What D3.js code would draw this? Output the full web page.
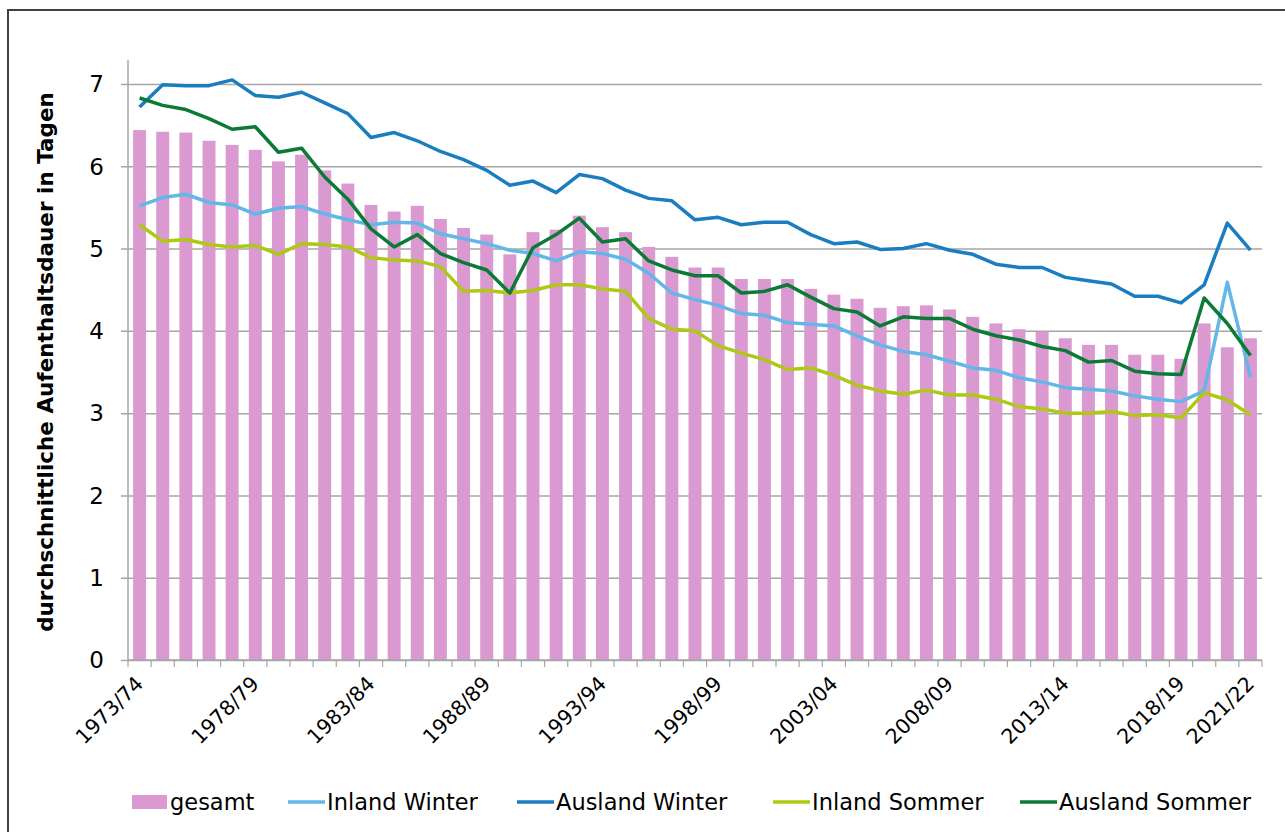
<!DOCTYPE html>
<html>
<head>
<meta charset="utf-8">
<script src="https://cdn.jsdelivr.net/npm/d3@7"></script>
<style>
  html, body { margin: 0; padding: 0; background: #fff; }
  svg { display: block; }
  text { font-family: "DejaVu Sans", sans-serif; fill: #000; }
</style>
</head>
<body>
<svg id="chart" width="1285" height="832"></svg>
<script>
// Seasons (Winter/Sommer Saison)
const seasons = [];
for (let yr = 1973; yr <= 2021; yr++) {
  seasons.push(yr + "/" + String((yr + 1) % 100).padStart(2, "0"));
}
const shownLabels = ["1973/74", "1978/79", "1983/84", "1988/89", "1993/94", "1998/99",
  "2003/04", "2008/09", "2013/14", "2018/19", "2021/22"];
const yTicks = [0, 1, 2, 3, 4, 5, 6, 7];

// Durchschnittliche Aufenthaltsdauer in Tagen
const gesamt = [6.44, 6.42, 6.41, 6.31, 6.26, 6.20, 6.06, 6.14, 5.95, 5.79,
  5.53, 5.45, 5.52, 5.36, 5.25, 5.17, 4.93, 5.20, 5.23, 5.40,
  5.26, 5.20, 5.02, 4.90, 4.77, 4.77, 4.63, 4.63, 4.63, 4.51,
  4.44, 4.39, 4.28, 4.30, 4.31, 4.26, 4.17, 4.09, 4.02, 3.99,
  3.91, 3.83, 3.83, 3.71, 3.71, 3.66, 4.09, 3.80, 3.91];
const inlandWinter = [5.52, 5.62, 5.66, 5.56, 5.53, 5.42, 5.49, 5.51, 5.42, 5.35,
  5.29, 5.32, 5.31, 5.18, 5.12, 5.06, 4.98, 4.94, 4.85, 4.96,
  4.94, 4.87, 4.70, 4.46, 4.38, 4.31, 4.21, 4.19, 4.10, 4.08,
  4.06, 3.94, 3.83, 3.75, 3.71, 3.63, 3.55, 3.52, 3.43, 3.38,
  3.31, 3.29, 3.27, 3.21, 3.17, 3.14, 3.27, 4.59, 3.44];
const auslandWinter = [6.72, 6.99, 6.98, 6.98, 7.05, 6.86, 6.84, 6.90, 6.77, 6.64,
  6.35, 6.41, 6.31, 6.18, 6.08, 5.95, 5.77, 5.82, 5.68, 5.90,
  5.85, 5.71, 5.61, 5.58, 5.35, 5.38, 5.29, 5.32, 5.32, 5.17,
  5.06, 5.08, 4.99, 5.00, 5.06, 4.98, 4.93, 4.81, 4.77, 4.77,
  4.65, 4.61, 4.57, 4.42, 4.42, 4.34, 4.56, 5.31, 4.98];
const inlandSommer = [5.29, 5.09, 5.11, 5.05, 5.02, 5.04, 4.93, 5.06, 5.05, 5.02,
  4.89, 4.86, 4.85, 4.78, 4.48, 4.49, 4.46, 4.49, 4.56, 4.56,
  4.51, 4.48, 4.15, 4.02, 4.00, 3.82, 3.73, 3.65, 3.53, 3.55,
  3.46, 3.34, 3.27, 3.23, 3.28, 3.22, 3.22, 3.17, 3.08, 3.05,
  3.00, 3.00, 3.02, 2.97, 2.98, 2.94, 3.25, 3.16, 2.98];
const auslandSommer = [6.83, 6.74, 6.69, 6.58, 6.45, 6.48, 6.17, 6.22, 5.87, 5.60,
  5.24, 5.02, 5.17, 4.94, 4.83, 4.74, 4.46, 5.01, 5.17, 5.37,
  5.08, 5.12, 4.85, 4.74, 4.67, 4.67, 4.46, 4.48, 4.56, 4.41,
  4.27, 4.23, 4.06, 4.17, 4.15, 4.15, 4.02, 3.94, 3.89, 3.81,
  3.76, 3.62, 3.64, 3.51, 3.48, 3.47, 4.40, 4.09, 3.70];

const colors = {
  gesamt: "#da9ad1",
  inlandWinter: "#62b7e8",
  auslandWinter: "#1a7dc0",
  inlandSommer: "#afc814",
  auslandSommer: "#0b7a35"
};

const lineSeries = [
  { name: "Inland Winter", values: inlandWinter, color: colors.inlandWinter },
  { name: "Ausland Winter", values: auslandWinter, color: colors.auslandWinter },
  { name: "Inland Sommer", values: inlandSommer, color: colors.inlandSommer },
  { name: "Ausland Sommer", values: auslandSommer, color: colors.auslandSommer }
];

const svg = d3.select("#chart");

// outer frame
svg.append("rect")
  .attr("x", 8).attr("y", 10).attr("width", 1300).attr("height", 850)
  .attr("fill", "none").attr("stroke", "#404040").attr("stroke-width", 2);

const plotLeft = 128, plotRight = 1262, plotTop = 84, plotBottom = 660;

const x = d3.scaleBand().domain(seasons).range([plotLeft, plotRight]).padding(0);
const y = d3.scaleLinear().domain([0, 7]).range([plotBottom, plotTop]);
const barW = x.bandwidth() * 0.56;
const cx = d => x(d) + x.bandwidth() / 2;

// horizontal gridlines with left tick marks
svg.append("g")
  .attr("transform", `translate(${plotLeft},0)`)
  .call(d3.axisLeft(y).tickValues(yTicks).tickSize(-(plotRight - plotLeft)).tickFormat(""))
  .call(g => g.select(".domain").remove())
  .call(g => g.selectAll("line").attr("stroke", "#a6a6a6").attr("stroke-width", 1.5).attr("x1", -7));

// y tick labels
svg.append("g")
  .selectAll("text")
  .data(yTicks)
  .join("text")
  .attr("x", 104)
  .attr("y", d => y(d))
  .attr("dy", "0.36em")
  .attr("text-anchor", "end")
  .attr("font-size", 23)
  .text(d => d);

// bars
svg.append("g")
  .selectAll("rect")
  .data(seasons)
  .join("rect")
  .attr("x", (d) => cx(d) - barW / 2)
  .attr("width", barW)
  .attr("y", (d, i) => y(gesamt[i]))
  .attr("height", (d, i) => y(0) - y(gesamt[i]))
  .attr("fill", colors.gesamt);

// y axis line
svg.append("line")
  .attr("x1", plotLeft).attr("x2", plotLeft)
  .attr("y1", y(7.29)).attr("y2", plotBottom)
  .attr("stroke", "#a6a6a6").attr("stroke-width", 1.5);

// x axis with ticks on category boundaries
const xAxis = svg.append("g");
xAxis.append("line")
  .attr("x1", plotLeft).attr("x2", plotRight)
  .attr("y1", plotBottom).attr("y2", plotBottom)
  .attr("stroke", "#a6a6a6").attr("stroke-width", 1.5);
xAxis.selectAll("line.tick")
  .data(seasons.concat([null]))
  .join("line")
  .attr("class", "tick")
  .attr("x1", (d, i) => plotLeft + i * x.bandwidth())
  .attr("x2", (d, i) => plotLeft + i * x.bandwidth())
  .attr("y1", plotBottom).attr("y2", plotBottom + 7)
  .attr("stroke", "#a6a6a6").attr("stroke-width", 1.2);

xAxis.selectAll("text")
  .data(shownLabels)
  .join("text")
  .attr("transform", d => `translate(${cx(d) + 5},${plotBottom + 25}) rotate(-45)`)
  .attr("text-anchor", "end")
  .attr("font-size", 20.5)
  .text(d => d);

// lines
const line = d3.line()
  .x((d, i) => cx(seasons[i]))
  .y(d => y(d));

svg.append("g")
  .selectAll("path")
  .data(lineSeries)
  .join("path")
  .attr("d", d => line(d.values))
  .attr("fill", "none")
  .attr("stroke", d => d.color)
  .attr("stroke-width", 3.5)
  .attr("stroke-linejoin", "round");

// y axis title
svg.append("text")
  .attr("transform", "translate(53,362) rotate(-90)")
  .attr("text-anchor", "middle")
  .attr("font-size", 21.5)
  .attr("font-weight", "bold")
  .text("durchschnittliche Aufenthaltsdauer in Tagen");

// legend
const legend = svg.append("g");
const ly = 802;
legend.append("rect")
  .attr("x", 132).attr("y", ly - 7).attr("width", 35).attr("height", 14)
  .attr("fill", colors.gesamt);
legend.append("text")
  .attr("x", 170).attr("y", ly).attr("dy", "0.36em")
  .attr("font-size", 22.5).text("gesamt");

const legendX = [288, 517, 773, 1020];
lineSeries.forEach((s, i) => {
  legend.append("line")
    .attr("x1", legendX[i]).attr("x2", legendX[i] + 37)
    .attr("y1", ly).attr("y2", ly)
    .attr("stroke", s.color).attr("stroke-width", 3.5);
  legend.append("text")
    .attr("x", legendX[i] + 39).attr("y", ly).attr("dy", "0.36em")
    .attr("font-size", 22.5).text(s.name);
});
</script>
</body>
</html>
